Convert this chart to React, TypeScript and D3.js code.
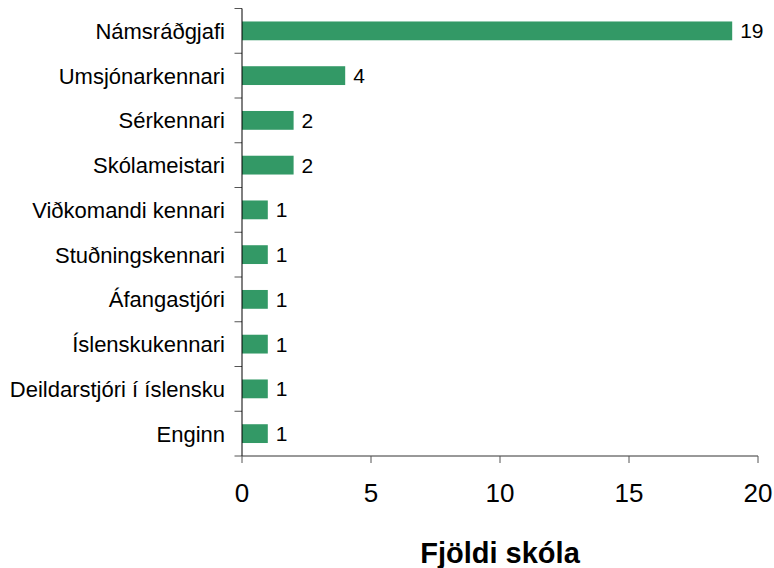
import React from "react";
import * as d3 from "d3";

const categories = [
  "Námsráðgjafi",
  "Umsjónarkennari",
  "Sérkennari",
  "Skólameistari",
  "Viðkomandi kennari",
  "Stuðningskennari",
  "Áfangastjóri",
  "Íslenskukennari",
  "Deildarstjóri í íslensku",
  "Enginn",
];
const values = [19, 4, 2, 2, 1, 1, 1, 1, 1, 1];
const xTicks = [0, 5, 10, 15, 20];
const xTitle = "Fjöldi skóla";

const W = 774;
const H = 568;
const left = 242;
const right = 758;
const top = 8.5;
const bottom = 456;
const font = "'Liberation Sans', Arial, sans-serif";
const barColor = "#339966";

export default function App() {
  const x = d3.scaleLinear().domain([0, 20]).range([left, right]);
  const y = d3.scaleBand<string>().domain(categories).range([top, bottom]).paddingInner(0.58).paddingOuter(0.29);
  const step = y.step();
  const boundaries = d3.range(categories.length + 1).map((i) => top + i * step);
  return (
    <svg width={W} height={H} style={{ position: "absolute", left: 0, top: 0, background: "#fff" }} fontFamily={font}>
      {categories.map((c, i) => (
        <g key={c}>
          <rect x={x(0)} y={y(c)!} width={x(values[i]) - x(0)} height={y.bandwidth()} fill={barColor} />
          <text x={x(values[i]) + 8} y={y(c)! + y.bandwidth() / 2} dy="0.36em" fontSize={21} fill="#000">
            {values[i]}
          </text>
          <text x={225} y={y(c)! + y.bandwidth() / 2} dy="0.36em" fontSize={22} textAnchor="end" fill="#000">
            {c}
          </text>
        </g>
      ))}
      {boundaries.map((b, i) => (
        <line key={i} x1={234.5} x2={left} y1={b} y2={b} stroke="#555" strokeWidth={1} />
      ))}
      <line x1={left} x2={left} y1={top} y2={bottom} stroke="#000" strokeWidth={1} />
      <line x1={left} x2={right} y1={bottom} y2={bottom} stroke="#333" strokeWidth={1} />
      {xTicks.map((t) => (
        <g key={t}>
          <line x1={x(t)} x2={x(t)} y1={bottom} y2={bottom + 7} stroke="#555" strokeWidth={1} />
          <text x={x(t)} y={502} fontSize={26} textAnchor="middle" fill="#000">
            {t}
          </text>
        </g>
      ))}
      <text x={(left + right) / 2} y={563} fontSize={29} fontWeight="bold" textAnchor="middle" fill="#000">
        {xTitle}
      </text>
    </svg>
  );
}
